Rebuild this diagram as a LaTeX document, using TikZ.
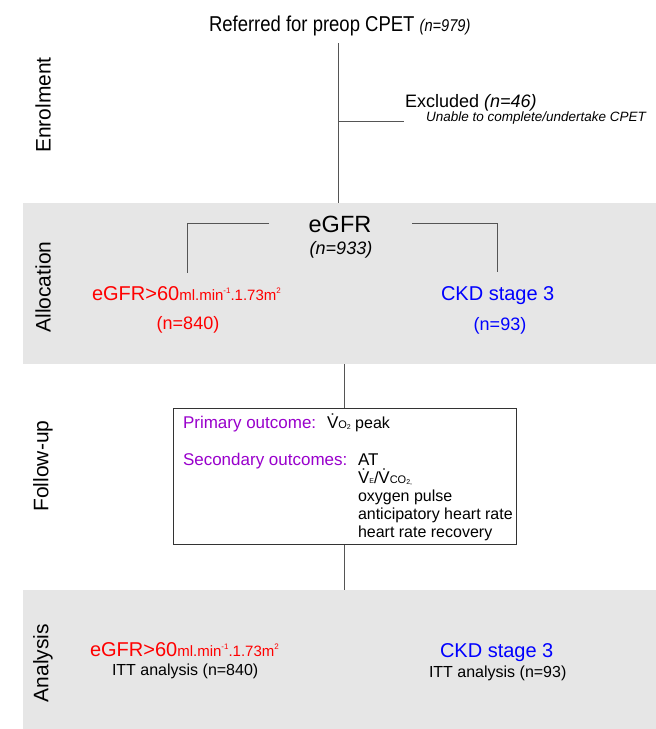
\documentclass[tikz,border=0pt]{standalone}
\usepackage{fontspec}
\setmainfont{Liberation Sans}
\newfontfamily\narrowfont{Liberation Sans}[FakeStretch=0.86]
\definecolor{bandgray}{RGB}{230,230,230}
\definecolor{myred}{RGB}{255,0,0}
\definecolor{myblue}{RGB}{0,0,255}
\definecolor{mypurple}{RGB}{153,0,204}
\definecolor{linegray}{RGB}{85,85,85}
\newcommand{\pxsize}[1]{\fontsize{#1}{#1}\selectfont}
\newcommand{\unitstr}{{\pxsize{15}ml.min\raisebox{0.45em}{\pxsize{8}-1}.1.73m\raisebox{0.45em}{\pxsize{8}2}}}
\newcommand{\Vdot}{\.V}
\begin{document}
\begin{tikzpicture}[x=1pt,y=-1pt,
  txt/.style={inner sep=0pt, outer sep=0pt},
  bw/.style={txt, anchor=base west},
  bc/.style={txt, anchor=base},
  side/.style={txt, rotate=90, font=\pxsize{21}},
  conn/.style={draw=linegray, line width=0.9pt},
  band/.style={fill=bandgray, draw=none},
  outbox/.style={draw=black!80, line width=0.9pt, fill=white}]
\useasboundingbox (0,0) rectangle (656,729);
\fill[white] (0,0) rectangle (656,729);
% bands
\path[band] (23,203) rectangle (656,364);
\path[band] (23,590) rectangle (656,729);
% side labels
\node[side] (lenrol) at (43,105) {Enrolment};
\node[side] (lalloc) at (43,287) {Allocation};
\node[side] (lfollow) at (43,466) {Follow-up};
\node[side] (lanal) at (43,663) {Analysis};
% enrolment
\node[bw, font=\narrowfont\pxsize{21.5}] (ref) at (209,31) {Referred for preop CPET {\itshape\pxsize{17}(n=979)}};
\coordinate (toptop) at (338,43);
\coordinate (topbot) at (338,203);
\coordinate (exbranch) at (338,121);
\coordinate (exend) at (404,121);
\draw[conn] (toptop) -- (topbot);
\draw[conn] (exbranch) -- (exend);
\node[bw, font=\pxsize{18}] (excl) at (405,107) {Excluded \textit{(n=46)}};
\node[bw, font=\itshape\pxsize{13.5}] (unable) at (426,121) {Unable to complete/undertake CPET};
% allocation
\node[bc, font=\pxsize{23.5}] (egfr) at (340,232) {eGFR};
\node[bc, font=\itshape\pxsize{18}] (n933) at (341,254) {(n=933)};
\node[bw, text=myred] (red1) at (92,300) {{\pxsize{20}eGFR>60}\unitstr};
\node[bc, font=\pxsize{18}, text=myred] (n840) at (188,329) {(n=840)};
\node[bw, font=\pxsize{20}, text=myblue] (ckd1) at (441,300) {CKD stage 3};
\node[bc, font=\pxsize{18}, text=myblue] (n93) at (500,330) {(n=93)};
\coordinate (lbA) at (269,223);
\coordinate (lbB) at (187,223);
\coordinate (lbC) at (187,273);
\coordinate (rbA) at (412,223);
\coordinate (rbB) at (497,223);
\coordinate (rbC) at (497,272);
\draw[conn] (lbA) -- (lbB) -- (lbC);
\draw[conn] (rbA) -- (rbB) -- (rbC);
% follow-up
\node[outbox, minimum width=343pt, minimum height=136pt, inner sep=0pt, anchor=north west] (box) at (173,408) {};
\coordinate (fuTop) at (344,364);
\coordinate (fuBot) at (344,590);
\draw[conn] (fuTop) -- (box.north -| fuTop);
\draw[conn] (box.south -| fuBot) -- (fuBot);
\node[bw, font=\pxsize{17}, text=mypurple] (prim) at (183,428) {Primary outcome:};
\node[bw, font=\pxsize{16}] (vo2) at (327,428) {{\pxsize{17}\Vdot}{\pxsize{11}O\raisebox{-0.15em}{\pxsize{7}2}} peak};
\node[bw, font=\pxsize{17}, text=mypurple] (sec) at (183,465) {Secondary outcomes:};
\node[bw, font=\pxsize{17}] (at) at (358,465) {AT};
\node[bw, font=\pxsize{16}] (vevco) at (358,483) {{\pxsize{17}\Vdot}{\pxsize{7}E}/{\pxsize{17}\Vdot}{\pxsize{11}CO\raisebox{-0.15em}{\pxsize{7}2,}}};
\node[bw, font=\pxsize{16}] (opulse) at (358,501) {oxygen pulse};
\node[bw, font=\pxsize{16}] (ahr) at (358,519) {anticipatory heart rate};
\node[bw, font=\pxsize{16}] (hrr) at (358,537) {heart rate recovery};
% analysis
\node[bw, text=myred] (red2) at (90,656) {{\pxsize{20}eGFR>60}\unitstr};
\node[bw, font=\pxsize{16}] (itt1) at (112,675) {ITT analysis (n=840)};
\node[bw, font=\pxsize{20}, text=myblue] (ckd2) at (440,657) {CKD stage 3};
\node[bw, font=\pxsize{16}] (itt2) at (429,677) {ITT analysis (n=93)};
\end{tikzpicture}
\end{document}
